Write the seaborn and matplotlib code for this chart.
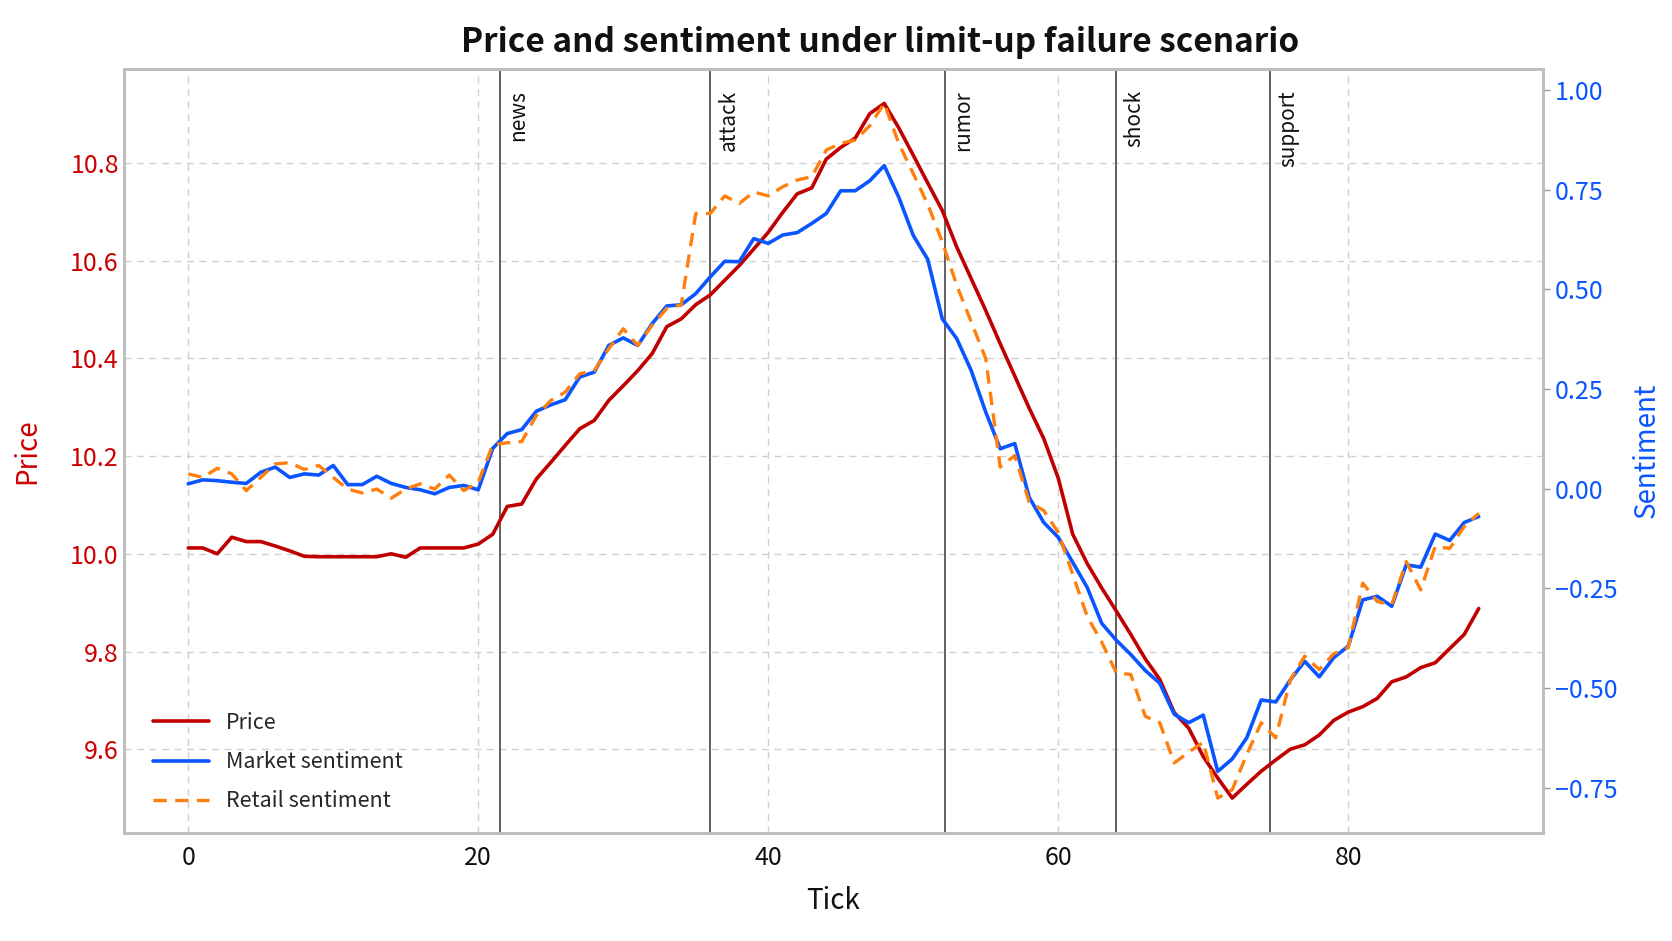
import numpy as np
import pandas as pd
import matplotlib
matplotlib.use("Agg")
import matplotlib.pyplot as plt
import matplotlib.transforms as mtransforms
import seaborn as sns

# ---------------- data ----------------
ticks = list(range(90))

price = [
    10.012, 10.012, 10.000, 10.034, 10.025, 10.025, 10.016, 10.006, 9.995, 9.994,
    9.994, 9.994, 9.994, 9.994, 10.000, 9.993, 10.012, 10.012, 10.012, 10.012,
    10.020, 10.040, 10.097, 10.102, 10.153, 10.187, 10.222, 10.256, 10.273, 10.314,
    10.344, 10.375, 10.410, 10.465, 10.481, 10.510, 10.530, 10.560, 10.590, 10.624,
    10.658, 10.699, 10.737, 10.749, 10.808, 10.832, 10.851, 10.901, 10.922, 10.872,
    10.816, 10.759, 10.703, 10.628, 10.563, 10.498, 10.430, 10.364, 10.298, 10.236,
    10.155, 10.040, 9.980, 9.930, 9.883, 9.835, 9.785, 9.743, 9.675, 9.643,
    9.585, 9.541, 9.500, 9.528, 9.555, 9.578, 9.600, 9.609, 9.629, 9.659,
    9.676, 9.687, 9.704, 9.738, 9.748, 9.767, 9.777, 9.806, 9.835, 9.888,
]

market_sentiment = [
    0.012, 0.022, 0.020, 0.016, 0.013, 0.041, 0.054, 0.028, 0.037, 0.034,
    0.058, 0.010, 0.010, 0.031, 0.013, 0.003, -0.003, -0.013, 0.003, 0.008,
    -0.003, 0.101, 0.138, 0.148, 0.194, 0.210, 0.223, 0.280, 0.292, 0.359,
    0.378, 0.359, 0.414, 0.458, 0.461, 0.489, 0.531, 0.570, 0.569, 0.627,
    0.615, 0.636, 0.642, 0.665, 0.690, 0.747, 0.747, 0.772, 0.810, 0.731,
    0.635, 0.575, 0.426, 0.376, 0.296, 0.192, 0.100, 0.113, -0.022, -0.085,
    -0.122, -0.185, -0.248, -0.338, -0.380, -0.416, -0.456, -0.488, -0.566, -0.587,
    -0.568, -0.709, -0.678, -0.625, -0.530, -0.535, -0.480, -0.433, -0.472, -0.424,
    -0.395, -0.279, -0.270, -0.295, -0.191, -0.197, -0.114, -0.130, -0.085, -0.070,
]

retail_sentiment = [
    0.037, 0.028, 0.051, 0.037, -0.005, 0.028, 0.062, 0.065, 0.048, 0.058,
    0.028, -0.001, -0.011, -0.001, -0.024, -0.001, 0.012, -0.001, 0.034, -0.005,
    0.016, 0.110, 0.115, 0.118, 0.183, 0.221, 0.242, 0.288, 0.296, 0.351,
    0.401, 0.359, 0.410, 0.452, 0.461, 0.690, 0.690, 0.734, 0.715, 0.744,
    0.734, 0.757, 0.774, 0.782, 0.849, 0.866, 0.874, 0.910, 0.966, 0.866,
    0.790, 0.713, 0.619, 0.510, 0.418, 0.326, 0.054, 0.083, -0.034, -0.055,
    -0.110, -0.215, -0.321, -0.385, -0.462, -0.466, -0.571, -0.587, -0.688, -0.661,
    -0.636, -0.776, -0.755, -0.667, -0.587, -0.625, -0.480, -0.420, -0.454, -0.414,
    -0.399, -0.237, -0.283, -0.291, -0.183, -0.254, -0.145, -0.150, -0.095, -0.062,
]

event_ticks = [21.5, 36, 52.2, 64, 74.6]
event_labels = ["news", "attack", "rumor", "shock", "support"]

title = "Price and sentiment under limit-up failure scenario"

# ---------------- style ----------------
sns.set_theme(style="whitegrid")
plt.rcParams["font.family"] = ["Noto Sans CJK KR", "DejaVu Sans"]
plt.rcParams["axes.unicode_minus"] = True

RED = "#c00000"
RED_TXT = "#cc0000"
BLUE = "#0a55ff"
ORANGE = "#ff7f0e"
SPINE = "#bdbdbd"

df = pd.DataFrame({
    "tick": ticks,
    "price": price,
    "market": market_sentiment,
    "retail": retail_sentiment,
})

fig = plt.figure(figsize=(16.72, 9.41), dpi=100)
ax = fig.add_axes([0.074, 0.115, 0.849, 0.812])
ax.set_facecolor("white")

sns.lineplot(data=df, x="tick", y="price", ax=ax, color=RED, linewidth=2.6,
             legend=False)
ax2 = ax.twinx()
sns.lineplot(data=df, x="tick", y="market", ax=ax2, color=BLUE, linewidth=2.6,
             legend=False)
sns.lineplot(data=df, x="tick", y="retail", ax=ax2, color=ORANGE, linewidth=2.4,
             linestyle=(0, (4, 2.5)), legend=False)

# grid
ax.grid(True, linestyle=(0, (5, 4)), color="#d0d0d0", linewidth=1.0)
ax2.grid(False)

# event lines
trans = mtransforms.blended_transform_factory(ax.transData, ax.transAxes)
for et, lab in zip(event_ticks, event_labels):
    ax.axvline(et, color="#555555", linewidth=1.3, zorder=1.5)
    ax.text(et + 0.5, 0.972, lab, transform=trans, rotation=90, ha="left",
            va="top", fontsize=15, color="#111111")

# spines
for a in (ax, ax2):
    for s in a.spines.values():
        s.set_color(SPINE)
        s.set_linewidth(1.8)

# ticks and labels
ax.tick_params(axis="x", labelsize=18, colors="#111111", length=5,
               color="#999999", width=1)
ax.tick_params(axis="y", labelsize=18, labelcolor=RED_TXT, length=0)
ax2.tick_params(axis="y", labelsize=18, labelcolor=BLUE, length=5,
                color="#999999", width=1)
ax.set_xticks([0, 20, 40, 60, 80])
ax.set_yticks([9.6, 9.8, 10.0, 10.2, 10.4, 10.6, 10.8])
ax2.set_yticks([-0.75, -0.5, -0.25, 0.0, 0.25, 0.5, 0.75, 1.0])
ax2.set_yticklabels([f"{v:.2f}".replace("-", "\u2212") for v in
                     [-0.75, -0.5, -0.25, 0.0, 0.25, 0.5, 0.75, 1.0]])

ax.set_xlabel("Tick", fontsize=20, color="#111111", labelpad=11)
ax.set_ylabel("Price", fontsize=20, color=RED_TXT, labelpad=20)
ax2.set_ylabel("Sentiment", fontsize=20, color=BLUE, labelpad=10)
ax.set_title(title, fontsize=24, fontweight="bold", color="#111111",
             pad=12, x=0.533)

# legend
handles = [ax.lines[0], ax2.lines[0], ax2.lines[1]]
labels = ["Price", "Market sentiment", "Retail sentiment"]
leg = ax2.legend(handles, labels, loc="lower left", frameon=False,
                 fontsize=15.5, handlelength=2.6, handletextpad=0.8,
                 labelspacing=0.8, borderaxespad=0.55,
                 bbox_to_anchor=(0.006, 0.0))

fig.savefig("out.png", dpi=100, facecolor="white")
